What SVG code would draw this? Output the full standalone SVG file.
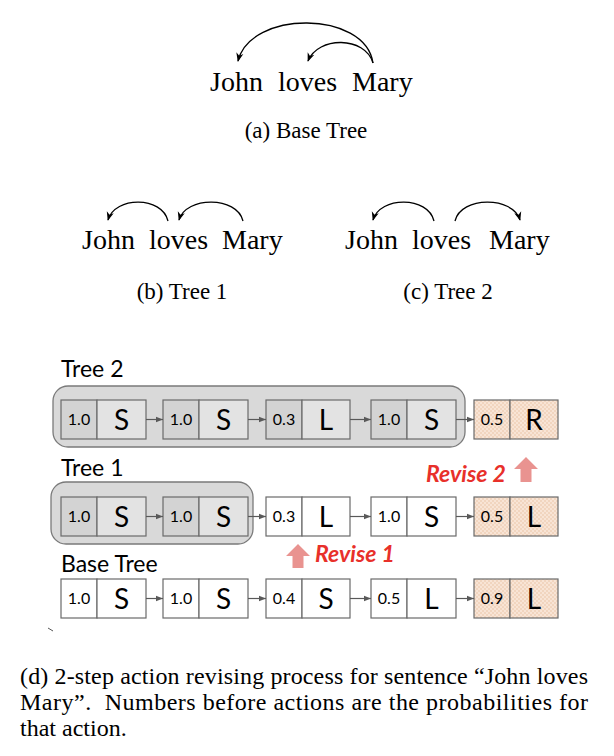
<svg xmlns="http://www.w3.org/2000/svg" width="614" height="756" viewBox="0 0 614 756">
<style>
.w{font-family:"Liberation Serif","Times New Roman",serif;font-size:28px;fill:#000}
.cap{font-family:"Liberation Serif","Times New Roman",serif;font-size:23px;fill:#000}
.dc{font-family:"Liberation Serif","Times New Roman",serif;font-size:24px;fill:#000}
.arc{fill:none;stroke:#000;stroke-width:1.3}
.lbl{font-family:Lato,"Liberation Sans",sans-serif;font-size:23px;fill:#000}
.p{font-family:Lato,"Liberation Sans",sans-serif;font-size:16px;fill:#000;text-anchor:middle}
.a{font-family:Lato,"Liberation Sans",sans-serif;font-size:28px;fill:#000;text-anchor:middle}
.cell{stroke:#6a6a6a;stroke-width:1.2}
.wh{fill:#fff}
.gp{fill:#d3d3d3}
.ga{fill:#e3e3e3}
.pe{fill:url(#chk)}
.cont{fill:#d9d9d9;stroke:#7a7a7a;stroke-width:1.3}
.con{stroke:#595959;stroke-width:1.2;fill:none}
.rev{font-family:Lato,"Liberation Sans",sans-serif;font-size:23px;font-weight:bold;font-style:italic;fill:#e8302a}
.up{fill:#e99390}
</style>
<defs>
<marker id="ah" viewBox="0 0 10 10" refX="9" refY="5" markerWidth="9" markerHeight="9" markerUnits="userSpaceOnUse" orient="auto">
<path d="M0,1 L10,5 L0,9 L3,5 Z" fill="#000"/>
</marker>
<marker id="ga" viewBox="0 0 10 10" refX="10" refY="5" markerWidth="7" markerHeight="7" markerUnits="userSpaceOnUse" orient="auto">
<path d="M0,1 L10,5 L0,9 Z" fill="#595959"/>
</marker>
<pattern id="chk" width="4" height="4" patternUnits="userSpaceOnUse">
<rect width="4" height="4" fill="#f8e4d5"/>
<rect width="2" height="2" fill="#f1d5bf"/>
<rect x="2" y="2" width="2" height="2" fill="#f1d5bf"/>
</pattern>
</defs>

<!-- (a) Base Tree -->
<g id="treeA">
<text class="w" x="210" y="91">John</text>
<text class="w" x="278" y="91">loves</text>
<text class="w" x="352" y="91">Mary</text>
<path class="arc" d="M373,63 C365,10 250,10 238,61" marker-end="url(#ah)"/>
<path class="arc" d="M373,63 C365,36 318,36 308,61" marker-end="url(#ah)"/>
<text class="cap" x="306" y="138" text-anchor="middle">(a) Base Tree</text>
</g>

<!-- (b) Tree 1 -->
<g id="treeB">
<text class="w" x="82" y="249">John</text>
<text class="w" x="149" y="249">loves</text>
<text class="w" x="222" y="249">Mary</text>
<path class="arc" d="M168,221 C162,196 115,196 108,220" marker-end="url(#ah)"/>
<path class="arc" d="M243,221 C237,196 186,196 179,220" marker-end="url(#ah)"/>
<text class="cap" x="182" y="299" text-anchor="middle">(b) Tree 1</text>
</g>

<!-- (c) Tree 2 -->
<g id="treeC">
<text class="w" x="345" y="249">John</text>
<text class="w" x="412" y="249">loves</text>
<text class="w" x="489" y="249">Mary</text>
<path class="arc" d="M434,221 C428,196 380,196 373,220" marker-end="url(#ah)"/>
<path class="arc" d="M455,221 C461,196 513,196 520,220" marker-end="url(#ah)"/>
<text class="cap" x="448" y="299" text-anchor="middle">(c) Tree 2</text>
</g>

<!-- labels & containers -->
<text class="lbl" x="61" y="377">Tree 2</text>
<rect class="cont" x="53" y="386" width="412" height="61" rx="15"/>
<text class="lbl" x="61" y="476">Tree 1</text>
<rect class="cont" x="51" y="482" width="202" height="62" rx="15"/>
<text class="lbl" x="61" y="572">Base Tree</text>

<!-- Tree 2 row -->
<g id="t2n1"><rect class="cell gp" x="61" y="400" width="36" height="39"/><rect class="cell ga" x="97" y="400" width="49" height="39"/><text class="p" x="79" y="425">1.0</text><text class="a" x="121.5" y="430">S</text></g>
<g id="t2n2"><rect class="cell gp" x="163" y="400" width="36" height="39"/><rect class="cell ga" x="199" y="400" width="49" height="39"/><text class="p" x="181" y="425">1.0</text><text class="a" x="223.5" y="430">S</text></g>
<g id="t2n3"><rect class="cell gp" x="266" y="400" width="36" height="39"/><rect class="cell ga" x="302" y="400" width="48" height="39"/><text class="p" x="284" y="425">0.3</text><text class="a" x="326" y="430">L</text></g>
<g id="t2n4"><rect class="cell gp" x="371" y="400" width="36" height="39"/><rect class="cell ga" x="407" y="400" width="49" height="39"/><text class="p" x="389" y="425">1.0</text><text class="a" x="431.5" y="430">S</text></g>
<g id="t2n5"><rect class="cell pe" x="474" y="400" width="36" height="39"/><rect class="cell pe" x="510" y="400" width="48" height="39"/><text class="p" x="492" y="425">0.5</text><text class="a" x="534" y="430">R</text></g>

<!-- Tree 1 row -->
<g id="t1n1"><rect class="cell gp" x="61" y="497" width="36" height="39"/><rect class="cell ga" x="97" y="497" width="49" height="39"/><text class="p" x="79" y="522">1.0</text><text class="a" x="121.5" y="527">S</text></g>
<g id="t1n2"><rect class="cell gp" x="163" y="497" width="36" height="39"/><rect class="cell ga" x="199" y="497" width="49" height="39"/><text class="p" x="181" y="522">1.0</text><text class="a" x="223.5" y="527">S</text></g>
<g id="t1n3"><rect class="cell wh" x="266" y="497" width="36" height="39"/><rect class="cell wh" x="302" y="497" width="48" height="39"/><text class="p" x="284" y="522">0.3</text><text class="a" x="326" y="527">L</text></g>
<g id="t1n4"><rect class="cell wh" x="371" y="497" width="36" height="39"/><rect class="cell wh" x="407" y="497" width="49" height="39"/><text class="p" x="389" y="522">1.0</text><text class="a" x="431.5" y="527">S</text></g>
<g id="t1n5"><rect class="cell pe" x="474" y="497" width="36" height="39"/><rect class="cell pe" x="510" y="497" width="48" height="39"/><text class="p" x="492" y="522">0.5</text><text class="a" x="534" y="527">L</text></g>

<!-- Base row -->
<g id="b1"><rect class="cell wh" x="61" y="579" width="36" height="39"/><rect class="cell wh" x="97" y="579" width="49" height="39"/><text class="p" x="79" y="604">1.0</text><text class="a" x="121.5" y="609">S</text></g>
<g id="b2"><rect class="cell wh" x="163" y="579" width="36" height="39"/><rect class="cell wh" x="199" y="579" width="49" height="39"/><text class="p" x="181" y="604">1.0</text><text class="a" x="223.5" y="609">S</text></g>
<g id="b3"><rect class="cell wh" x="266" y="579" width="36" height="39"/><rect class="cell wh" x="302" y="579" width="48" height="39"/><text class="p" x="284" y="604">0.4</text><text class="a" x="326" y="609">S</text></g>
<g id="b4"><rect class="cell wh" x="371" y="579" width="36" height="39"/><rect class="cell wh" x="407" y="579" width="49" height="39"/><text class="p" x="389" y="604">0.5</text><text class="a" x="431.5" y="609">L</text></g>
<g id="b5"><rect class="cell pe" x="474" y="579" width="36" height="39"/><rect class="cell pe" x="510" y="579" width="48" height="39"/><text class="p" x="492" y="604">0.9</text><text class="a" x="534" y="609">L</text></g>

<!-- connectors -->
<g id="connectors">
<path class="con" d="M146,419.5 H163" marker-end="url(#ga)"/>
<path class="con" d="M248,419.5 H266" marker-end="url(#ga)"/>
<path class="con" d="M350,419.5 H371" marker-end="url(#ga)"/>
<path class="con" d="M456,419.5 H474" marker-end="url(#ga)"/>
<path class="con" d="M146,516.5 H163" marker-end="url(#ga)"/>
<path class="con" d="M248,516.5 H266" marker-end="url(#ga)"/>
<path class="con" d="M350,516.5 H371" marker-end="url(#ga)"/>
<path class="con" d="M456,516.5 H474" marker-end="url(#ga)"/>
<path class="con" d="M146,598.5 H163" marker-end="url(#ga)"/>
<path class="con" d="M248,598.5 H266" marker-end="url(#ga)"/>
<path class="con" d="M350,598.5 H371" marker-end="url(#ga)"/>
<path class="con" d="M456,598.5 H474" marker-end="url(#ga)"/>
</g>

<!-- revise annotations -->
<g id="revise2">
<text class="rev" x="426" y="482">Revise 2</text>
<polygon class="up" points="526,457 538,469 531.5,469 531.5,482 520.5,482 520.5,469 514,469"/>
</g>
<g id="revise1">
<polygon class="up" points="298,544 310,556 303.5,556 303.5,568 292.5,568 292.5,556 286,556"/>
<text class="rev" x="315" y="562">Revise 1</text>
</g>

<path d="M48,628 L53,631" stroke="#555" stroke-width="1" fill="none"/>

<!-- caption -->
<g id="caption">
<text class="dc" x="20" y="684" textLength="568" lengthAdjust="spacing">(d) 2-step action revising process for sentence “John loves</text>
<text class="dc" x="20" y="710" textLength="568" lengthAdjust="spacing" xml:space="preserve">Mary”.  Numbers before actions are the probabilities for</text>
<text class="dc" x="20" y="736">that action.</text>
</g>
</svg>
